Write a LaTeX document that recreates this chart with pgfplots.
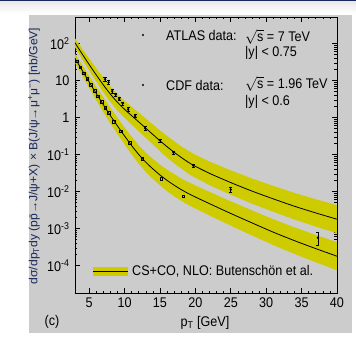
\documentclass[border=0pt]{standalone}
\usepackage{fontspec}
\setmainfont{Liberation Sans}[FakeStretch=0.9]
\usepackage{pgfplots}
\pgfplotsset{compat=1.18}
\usepackage{pgfplotstable}
\definecolor{band}{RGB}{206,204,0}
\definecolor{panel}{RGB}{204,204,204}
\definecolor{navy}{RGB}{25,40,90}

\pgfplotstableread{
x  U        L
3  104.7    39.81
4  52.48    19.05
5  26.92    9.120
6  14.13    4.467
7  7.586    2.213
8  4.266    1.122
9  2.570    0.5888
10 1.660    0.3162
11 1.122    0.1738
12 0.7586   0.1000
13 0.5129   0.06166
14 0.3467   0.04074
15 0.2344   0.02786
16 0.1622   0.01995
17 0.1148   0.01479
18 0.08318  0.01122
19 0.06166  0.008810
20 0.04786  0.007079
22 0.03090  0.004677
25 0.01738  0.002541
28 0.01023  0.001413
31 0.006310 0.0007943
34 0.003981 0.0004677
37 0.002630 0.0002851
40 0.001778 0.0001778
}\curves

% upper band outline: upper edge 3->40, then lower edge 40->3
\pgfplotstableread{
x  y
3  138.0
4  72.44
5  38.90
6  21.38
7  12.02
8  6.918
9  4.266
10 2.818
11 1.950
12 1.349
13 0.9333
14 0.6457
15 0.4467
16 0.3162
17 0.2291
18 0.1660
19 0.1259
20 0.09772
22 0.06457
25 0.03715
28 0.02239
31 0.01413
34 0.009120
37 0.006166
40 0.004266
40 0.0007413
37 0.001122
34 0.001738
31 0.002818
28 0.004677
25 0.008128
22 0.01479
20 0.02344
19 0.03020
18 0.04169
17 0.05754
16 0.08318
15 0.1230
14 0.1862
13 0.2818
12 0.4266
11 0.6457
10 0.9772
9  1.549
8  2.630
7  4.786
6  9.333
5  18.62
4  38.02
3  79.43
}\bandU

\pgfplotstableread{
x  y
3  52.48
4  26.30
5  13.18
6  6.761
7  3.508
8  1.820
9  0.9772
10 0.5370
11 0.3020
12 0.1778
13 0.1122
14 0.07586
15 0.05309
16 0.03890
17 0.02951
18 0.02239
19 0.01799
20 0.01445
22 0.009772
25 0.005433
28 0.003090
31 0.001778
34 0.001072
37 0.0006683
40 0.0004266
40 0.00007413
37 0.0001216
34 0.0002042
31 0.0003548
28 0.0006457
25 0.001189
22 0.002239
20 0.003467
19 0.004315
18 0.005623
17 0.007413
16 0.01023
15 0.01462
14 0.02188
13 0.03388
12 0.05623
11 0.1000
10 0.1862
9  0.3548
8  0.6918
7  1.396
6  2.951
5  6.310
4  13.80
3  30.20
}\bandL

\pgfplotstableread{
x     y        e
7.25  10.72    0.12
7.75  8.913    0.12
8.25  5.129    0.10
8.75  4.169    0.10
9.25  3.162    0.10
9.75  2.399    0.10
10.5  1.660    0.10
11.5  1.096    0.10
12.9  0.5129   0.10
15.0  0.2399   0.10
16.9  0.1122   0.10
19.7  0.05012  0.10
25.0  0.01122  0.15
37.3  0.0005623 0.38
}\atlas

\pgfplotstableread{
x     y
3.25  33.11
3.75  22.91
4.25  15.85
4.75  10.96
5.25  7.586
5.75  5.370
6.25  3.715
6.75  2.630
7.25  1.862
7.75  1.318
8.5   0.7762
9.5   0.4266
10.75 0.2089
12.5  0.07586
15.2  0.02239
18.3  0.007413
}\cdf

\begin{document}
\begin{tikzpicture}[font=\fontsize{14}{16}\selectfont]
\fill[white] (-75pt,-47pt) rectangle (281pt,293pt);
\shade[top color=gray!18, bottom color=white] (-75pt,280pt) rectangle (281pt,292pt);
\fill[navy] (-75pt,291.5pt) rectangle (281pt,293pt);
\fill[panel] (-46pt,-40pt) rectangle (277pt,278pt);
\node[rotate=90, font=\fontsize{11.8}{14}\selectfont\addfontfeature{FakeStretch=1.03}, text=navy] at (-41pt,137pt)
  {dσ/dp\textsubscript{T}dy (p\={p}→J/ψ+X) × B(J/ψ→μ\textsuperscript{+}μ\textsuperscript{−}) [nb/GeV]};
\begin{axis}[
  at={(0pt,0pt)}, anchor=south west,
  scale only axis, width=262pt, height=276pt,
  xmin=3, xmax=40,
  ymode=log, ymin=1.8e-5, ymax=520,
  xtick={5,10,...,40}, minor x tick num=4,
  ytick={1e-4,1e-3,1e-2,1e-1,1,10,100},
  yticklabels={10\textsuperscript{-4},10\textsuperscript{-3},10\textsuperscript{-2},10\textsuperscript{-1},1,10,10\textsuperscript{2}},
  /pgf/number format/assume math mode=true,
  tick align=inside,
  major tick length=5pt, minor tick length=2.5pt,
  tick style={black, line width=0.6pt},
  axis line style={black, line width=0.9pt},
  every tick label/.append style={font=\fontsize{14}{16}\selectfont},
  xticklabel style={yshift=-1pt},
  yticklabel style={xshift=-2pt},
]
\addplot[fill=band, draw=none] table[x=x,y=y]{\bandU} -- cycle;
\addplot[fill=band, draw=none] table[x=x,y=y]{\bandL} -- cycle;
\addplot[black, line width=0.8pt, smooth] table[x=x,y=U]{\curves};
\addplot[black, line width=0.8pt, smooth] table[x=x,y=L]{\curves};
\addplot[only marks, mark=*, mark size=1pt, black,
  error bars/.cd, y dir=both, y explicit relative,
  error bar style={line width=0.7pt},
  error mark options={rotate=90, mark size=1.6pt, line width=0.7pt}]
  table[x=x, y=y, y error=e]{\atlas};
\addplot[only marks, mark=square, mark size=1.3pt, black, mark options={line width=0.5pt}]
  table[x=x, y=y]{\cdf};
\end{axis}
\fill[black] (68pt,258pt) circle (1.2pt);
\node[anchor=west, inner sep=0] at (91pt,258pt) {ATLAS data:};
\node[anchor=west, inner sep=0] at (170pt,256pt) {$\sqrt{\mbox{s}}$ = 7 TeV};
\node[anchor=west, inner sep=0] at (170pt,240pt) {|y| < 0.75};
\fill[black] (68pt,208pt) circle (1.2pt);
\node[anchor=west, inner sep=0] at (91pt,208pt) {CDF data:};
\node[anchor=west, inner sep=0] at (170pt,209pt) {$\sqrt{\mbox{s}}$ = 1.96 TeV};
\node[anchor=west, inner sep=0] at (170pt,191pt) {|y| < 0.6};
\fill[band] (18pt,17pt) rectangle (53pt,26pt);
\draw[black, line width=0.8pt] (18pt,21.5pt) -- (53pt,21.5pt);
\node[anchor=west, inner sep=0] at (57pt,21.5pt) {CS+CO, NLO: Butenschön et al.};
\node at (-23pt,-29pt) {(c)};
\node at (130pt,-30pt) {p\textsubscript{T} [GeV]};
\end{tikzpicture}
\end{document}
